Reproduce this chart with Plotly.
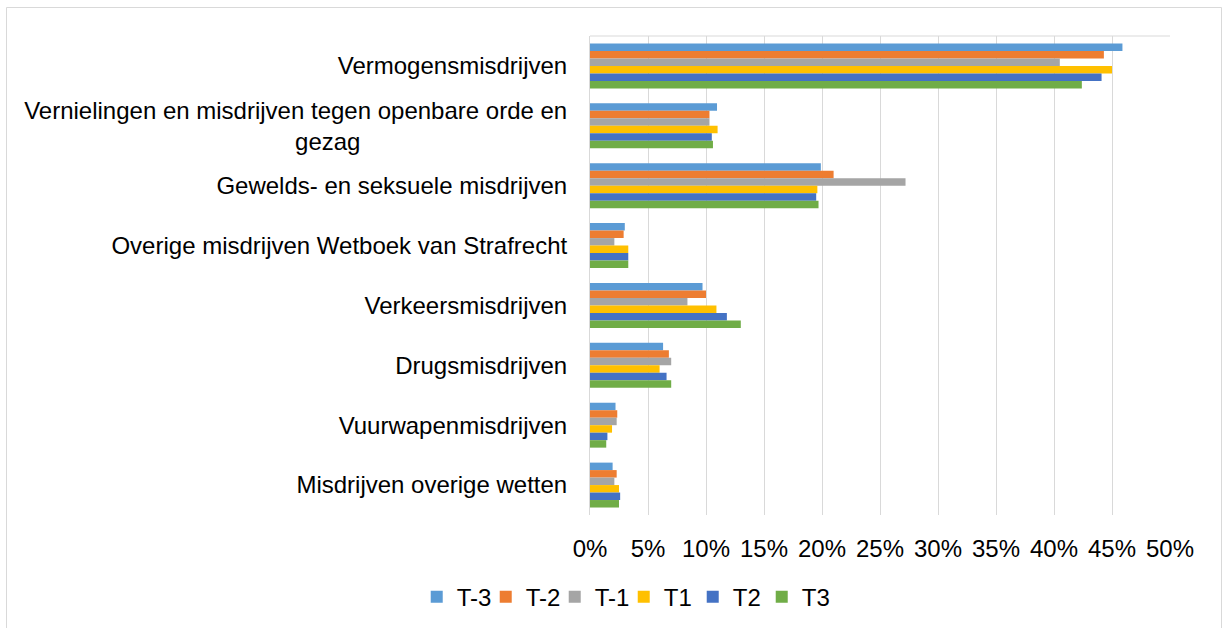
import plotly.graph_objects as go

NBSP = "\u00a0"
categories = [
    "Vermogensmisdrijven",
    "Vernielingen en misdrijven tegen openbare orde en<br>gezag" + NBSP * 31,
    "Gewelds- en seksuele misdrijven",
    "Overige misdrijven Wetboek van Strafrecht",
    "Verkeersmisdrijven",
    "Drugsmisdrijven",
    "Vuurwapenmisdrijven",
    "Misdrijven overige wetten",
]

series_names = ["T-3", "T-2", "T-1", "T1", "T2", "T3"]
t_min3 = [45.9, 10.95, 19.9, 3.0, 9.7, 6.3, 2.2, 1.95]
t_min2 = [44.3, 10.3, 21.0, 2.9, 10.0, 6.8, 2.35, 2.3]
t_min1 = [40.5, 10.3, 27.2, 2.1, 8.4, 7.0, 2.3, 2.1]
t_1 = [45.0, 11.0, 19.6, 3.3, 10.9, 6.0, 1.9, 2.5]
t_2 = [44.1, 10.5, 19.5, 3.3, 11.8, 6.6, 1.5, 2.6]
t_3 = [42.4, 10.6, 19.7, 3.3, 13.0, 7.0, 1.4, 2.5]
series_values = [t_min3, t_min2, t_min1, t_1, t_2, t_3]
colors = ["#5B9BD5", "#ED7D31", "#A5A5A5", "#FFC000", "#4472C4", "#70AD47"]

x_ticks = [0, 5, 10, 15, 20, 25, 30, 35, 40, 45, 50]

fig = go.Figure()
for name, vals, col in zip(series_names, series_values, colors):
    fig.add_trace(go.Bar(
        y=categories, x=vals, name=name, orientation="h",
        marker=dict(color=col, line=dict(width=0)),
    ))

FONT = "Arial, Liberation Sans, sans-serif"
fig.update_layout(
    width=1223, height=628,
    margin=dict(l=590, r=53, t=36, b=113),
    paper_bgcolor="white", plot_bgcolor="white",
    font=dict(family=FONT, size=24, color="#000000"),
    barmode="group", bargap=0.25, bargroupgap=0,
    showlegend=True,
    legend=dict(
        orientation="h", xref="container", yref="container",
        x=0.51, y=0.049, xanchor="center", yanchor="middle",
        font=dict(family=FONT, size=24, color="#000000"),
        itemwidth=30, entrywidth=24, traceorder="normal",
    ),
    xaxis=dict(
        range=[0, 50], tickvals=x_ticks,
        ticktext=[f"{v}%" for v in x_ticks],
        showgrid=True, gridcolor="#d9d9d9", gridwidth=1,
        zeroline=False, showline=False, ticks="",
        ticklabelstandoff=17,
        fixedrange=True,
    ),
    yaxis=dict(
        autorange="reversed", showgrid=False, zeroline=False,
        showline=True, linecolor="#d9d9d9", linewidth=1,
        ticks="", ticklabelstandoff=17,
        fixedrange=True,
    ),
    shapes=[
        dict(type="line", xref="paper", yref="paper", x0=0, x1=1, y0=1, y1=1,
             line=dict(color="#d9d9d9", width=1)),
        dict(type="rect", xref="paper", yref="paper",
             x0=(6.5 - 590) / 580, x1=(1221.5 - 590) / 580,
             y0=(515 - 629) / 479, y1=1 + (36 - 7.5) / 479,
             line=dict(color="#d9d9d9", width=1), layer="below"),
    ],
)

fig.write_html(
    "out.html",
    config={"displayModeBar": False},
    post_script="document.body.style.margin='0';document.body.style.overflow='hidden';",
)
